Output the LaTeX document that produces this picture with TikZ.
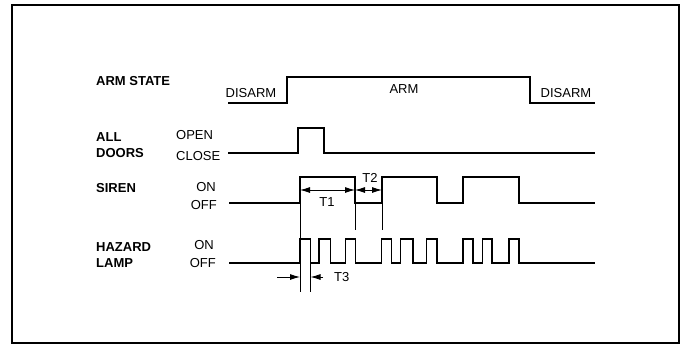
\documentclass[tikz,border=0pt]{standalone}
\usepackage{fontspec}
\setmainfont{Liberation Sans}
\usetikzlibrary{arrows.meta}
\tikzset{
    signame/.style={anchor=west, align=left, inner sep=0pt, font=\bfseries\fontsize{13}{15.5}\selectfont},
    levelname/.style={inner sep=0pt, font=\fontsize{13}{15}\selectfont},
    signal/.style={line width=1.5pt},
    dimline/.style={line width=0.6pt},
    dimarrow/.style={line width=0.9pt, >={Latex[length=10pt,width=6pt]}},
    frame/.style={line width=1.6pt}
}

\begin{document}
\begin{tikzpicture}[x=1pt, y=-1pt]
    \useasboundingbox (0,0) rectangle (683,346);
    \draw [frame] (12,5) rectangle (679,343);

    % signal names
    \node (armstate) [signame] at (96,81.5) {ARM STATE};
    \node (doors) [signame] at (96,145) {ALL\\DOORS};
    \node (siren) [signame] at (96,188) {SIREN};
    \node (hazard) [signame] at (96,255) {HAZARD\\LAMP};

    % level names
    \node (disarm1) [levelname] at (251,93) {DISARM};
    \node (arm) [levelname] at (404,89) {ARM};
    \node (disarm2) [levelname] at (566,93) {DISARM};
    \node (open) [levelname, anchor=west] at (176,135) {OPEN};
    \node (close) [levelname, anchor=west] at (176,156) {CLOSE};
    \node (sirenon) [levelname, anchor=east] at (216,187) {ON};
    \node (sirenoff) [levelname, anchor=east] at (217,205.5) {OFF};
    \node (lampon) [levelname, anchor=east] at (214,245) {ON};
    \node (lampoff) [levelname, anchor=east] at (216,263) {OFF};

    % waveforms
    \draw [signal] (228,103) -- (287,103) -- (287,77) -- (530,77) -- (530,103) -- (595,103);
    \draw [signal] (228,153) -- (298,153) -- (298,128) -- (324,128) -- (324,153) -- (595,153);
    \draw [signal] (229,203) -- (300,203) |- (355,177) |- (382,203) |- (437,177) |- (463,203) |- (519,177) |- (595,203);
    \draw [signal] (229,263)
        foreach \a/\b in {300/310.5, 319/330.5, 345.5/355.5, 381.5/391.5, 400.5/413, 426.5/437, 463/473, 482.5/492, 509/519}
        { -- (\a,263) -- (\a,239) -- (\b,239) -- (\b,263) } -- (595,263);

    % timing marks
    \draw [dimline] (300,203) -- (300,292);
    \draw [dimline] (355,203) -- (355,230);
    \draw [dimline] (382,203) -- (382,230);
    \draw [dimline] (310.5,263) -- (310.5,292);

    \coordinate (t1a) at (300,190);
    \coordinate (t1b) at (355,190);
    \coordinate (t2b) at (382,190);
    \draw [dimarrow, <->] (t1a) -- (t1b);
    \draw [dimarrow, <->] (t1b) -- (t2b);
    \node (t1) [levelname] at (327,202) {T1};
    \node (t2) [levelname] at (370,177.5) {T2};

    \coordinate (t3l) at (277,277);
    \coordinate (t3a) at (300,277);
    \coordinate (t3b) at (310.5,277);
    \coordinate (t3r) at (323,277);
    \draw [dimarrow, ->] (t3l) -- (t3a);
    \draw [dimarrow, ->] (t3r) -- (t3b);
    \node (t3) [levelname, anchor=west] at (334,277) {T3};
\end{tikzpicture}
\end{document}
